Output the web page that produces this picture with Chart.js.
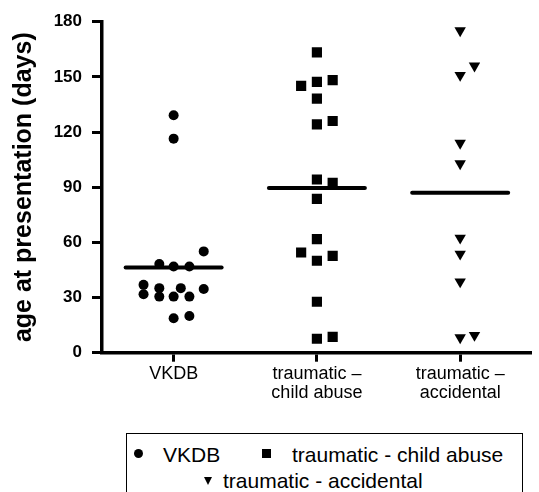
<!DOCTYPE html>
<html>
<head>
<meta charset="utf-8">
<title>Age at presentation</title>
<script src="https://cdn.jsdelivr.net/npm/chart.js@4.4.1/dist/chart.umd.min.js"></script>
<style>
  html, body { margin: 0; padding: 0; background: #fff; }
  #wrap { position: relative; width: 539px; height: 492px; overflow: hidden; font-family: "Liberation Sans", Arial, sans-serif; }
  #chart { position: absolute; left: 0; top: 0; }
  #legend { position: absolute; left: 126px; top: 433px; width: 397px; height: 90px; border: 1px solid #000; box-sizing: border-box; }
  #legend .txt { position: absolute; font-size: 21px; line-height: 21px; color: #000; white-space: nowrap; }
  #legend .mk { position: absolute; }
</style>
</head>
<body>
<div id="wrap">
  <canvas id="chart" width="539" height="430"></canvas>
  <div id="legend"></div>
</div>
<script>
// categories on the x axis (multi-line tick labels)
const categories = [["VKDB"], ["traumatic –", "child abuse"], ["traumatic –", "accidental"]];
const seriesNames = ["VKDB", "traumatic - child abuse", "traumatic - accidental"];

// age at presentation (days)
const vkdbDays = [129.1, 116.4, 55.1, 48.2, 46.9, 46.9, 36.9, 35.1, 35.1, 34.6, 31.8, 30.5, 30.5, 30.5, 18.7, 20.0];
const abuseDays = [163.3, 148.2, 147.3, 145.1, 138.2, 126.0, 124.2, 94.2, 92.4, 83.7, 61.8, 54.5, 52.7, 50.0, 27.7, 7.6, 8.6];
const accidentDays = [175.2, 156.0, 150.9, 114.0, 102.8, 62.4, 53.7, 38.6, 8.2, 9.5];

// horizontal scatter of each point around its category (category units)
const vkdbJitter = [0, 0, 0.21, -0.1, 0, 0.11, -0.21, -0.1, 0.05, 0.21, -0.21, -0.1, 0, 0.11, 0, 0.11];
const abuseJitter = [0, 0.11, 0, -0.11, 0, 0.11, 0, 0, 0.11, 0, 0, -0.11, 0.11, 0, 0, 0, 0.11];
const accidentJitter = [0, 0.1, 0, 0, 0, 0, 0, 0, 0, 0.1];

// group means (horizontal bars)
const groupMeans = [46.4, 89.5, 87.0];

const yTicks = [0, 30, 60, 90, 120, 150, 180];

const FONT = "'Liberation Sans', Arial, Helvetica, sans-serif";
const markers = [
  { style: "circle", radius: 5, rotation: 0 },
  { style: "rect", radius: 7.2, rotation: 0 },
  { style: "triangle", radius: 6.6, rotation: 180 },
];

const values = [vkdbDays, abuseDays, accidentDays];
const jitter = [vkdbJitter, abuseJitter, accidentJitter];

const pointSets = values.map((vals, i) => ({
  label: seriesNames[i],
  data: vals.map((v, j) => ({ x: i + 1 + jitter[i][j], y: v })),
  showLine: false,
  pointStyle: markers[i].style,
  pointRadius: markers[i].radius,
  pointHoverRadius: markers[i].radius,
  rotation: markers[i].rotation,
  backgroundColor: "#000",
  borderColor: "#000",
  borderWidth: 0,
}));

const meanSets = groupMeans.map((m, i) => ({
  label: "mean " + seriesNames[i],
  data: [
    { x: i + 1 - 0.335, y: m },
    { x: i + 1 + 0.335, y: m },
  ],
  showLine: true,
  borderColor: "#000",
  borderWidth: 4,
  borderCapStyle: "round",
  pointRadius: 0,
  pointHoverRadius: 0,
}));

new Chart(document.getElementById("chart"), {
  type: "scatter",
  data: { datasets: [...meanSets, ...pointSets] },
  options: {
    responsive: false,
    animation: false,
    layout: { padding: { top: 21.7, left: 0, right: 0, bottom: 0 } },
    plugins: {
      legend: { display: false },
      tooltip: { enabled: false },
    },
    scales: {
      x: {
        type: "linear",
        min: 0.5,
        max: 3.5,
        afterBuildTicks: (scale) => {
          scale.ticks = categories.map((c, i) => ({ value: i + 1 }));
        },
        afterFit: (scale) => {
          scale.height = 77.3;
        },
        ticks: {
          autoSkip: false,
          maxRotation: 0,
          padding: 2,
          color: "#000",
          font: { family: FONT, size: 18, lineHeight: 1.1 },
          callback: (v) => categories[Math.round(v) - 1],
        },
        grid: {
          drawOnChartArea: false,
          drawTicks: true,
          tickLength: 9,
          tickWidth: 3,
          tickColor: "#000",
          color: "#000",
        },
        border: { display: true, color: "#000", width: 3.5 },
      },
      y: {
        min: 0,
        max: 180,
        afterBuildTicks: (scale) => {
          scale.ticks = yTicks.map((v) => ({ value: v }));
        },
        afterFit: (scale) => {
          scale.width = 102;
        },
        ticks: {
          padding: 10,
          color: "#000",
          font: { family: FONT, size: 17, weight: "bold" },
        },
        grid: {
          drawOnChartArea: false,
          drawTicks: true,
          tickLength: 10,
          tickWidth: 3,
          tickColor: "#000",
          color: "#000",
        },
        border: { display: true, color: "#000", width: 3.5 },
        title: {
          display: true,
          text: "age at presentation (days)",
          color: "#000",
          font: { family: FONT, size: 25, weight: "bold" },
          padding: { top: 9, bottom: 0 },
        },
      },
    },
  },
});

// legend box below the plot
const legend = document.getElementById("legend");
const legendItems = [
  { mark: { left: 6.5, top: 14.5, w: 9, h: 9, round: true }, text: { left: 36, top: 10 } },
  { mark: { left: 134.5, top: 14.5, w: 9, h: 9 }, text: { left: 165, top: 10 } },
  { mark: { left: 77, top: 42.8, tri: true }, text: { left: 96, top: 36 } },
];
legendItems.forEach((item, i) => {
  const mk = document.createElement("span");
  mk.className = "mk";
  mk.style.left = item.mark.left + "px";
  mk.style.top = item.mark.top + "px";
  if (item.mark.tri) {
    mk.style.width = "0";
    mk.style.height = "0";
    mk.style.borderLeft = "4.8px solid transparent";
    mk.style.borderRight = "4.8px solid transparent";
    mk.style.borderTop = "8.5px solid #000";
  } else {
    mk.style.width = item.mark.w + "px";
    mk.style.height = item.mark.h + "px";
    mk.style.background = "#000";
    if (item.mark.round) mk.style.borderRadius = "50%";
  }
  legend.appendChild(mk);

  const t = document.createElement("span");
  t.className = "txt";
  t.style.left = item.text.left + "px";
  t.style.top = item.text.top + "px";
  t.textContent = seriesNames[i];
  legend.appendChild(t);
});
</script>
</body>
</html>
